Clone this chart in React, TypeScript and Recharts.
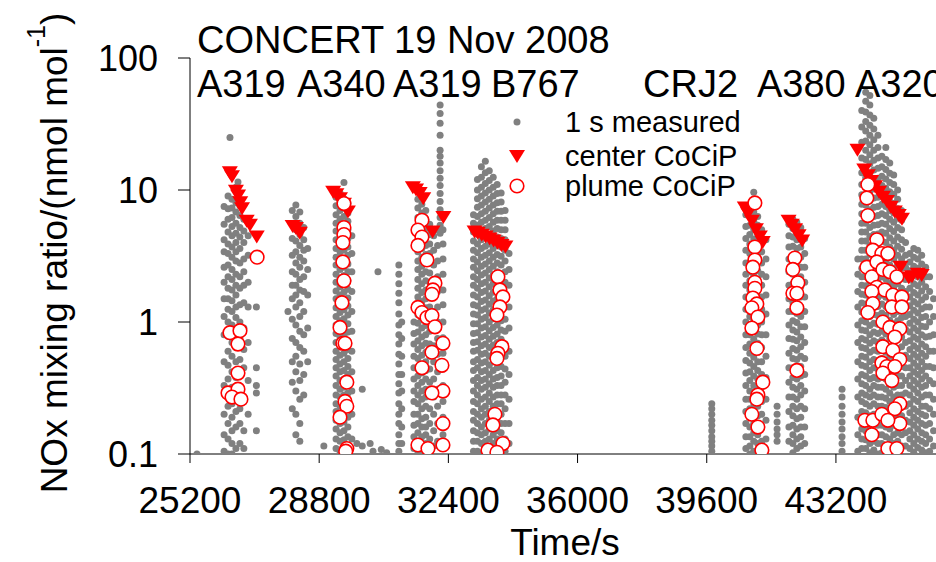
import { ScatterChart, Scatter, XAxis, YAxis } from 'recharts';

type Column = [number, number[]];

// 1 s measured NOx, grouped by time column: [time (s), values (nmol/mol)]
const measuredA319a: Column[] = [
  [25395, [0.1]],
  [26150, [7.5, 5.5, 4.2, 3.4, 2.6, 2.0, 1.5, 1.1, 0.8, 0.5, 0.33, 0.2, 0.14, 0.105]],
  [26260, [9.0, 7.2, 6.0, 4.8, 3.9, 3.3, 2.7, 2.2, 1.8, 1.5, 1.25, 1.0, 0.78, 0.6, 0.47, 0.37, 0.29, 0.23, 0.17, 0.13, 0.1]],
  [26314, [25]],
  [26370, [8.5, 7.3, 6.2, 5.3, 4.5, 3.7, 3.1, 2.5, 2.1, 1.75, 1.45, 1.2, 0.95, 0.7, 0.55, 0.42, 0.32, 0.24, 0.19, 0.15, 0.12, 0.1]],
  [26480, [10.5, 8.0, 6.8, 5.6, 4.7, 4.0, 3.4, 2.9, 2.3, 1.9, 1.6, 1.3, 1.08, 0.88, 0.64, 0.5, 0.38, 0.28, 0.21, 0.16, 0.11]],
  [26537, [11.5]],
  [26590, [7.6, 6.4, 5.2, 4.4, 3.6, 2.8, 2.2, 1.8, 1.35, 1.0, 0.75, 0.52, 0.4, 0.3, 0.22, 0.17, 0.12]],
  [26700, [6.0, 4.9, 4.0, 3.0, 2.4, 1.9, 1.4, 0.9, 0.62, 0.45, 0.25, 0.15, 0.11]],
  [26820, [4.5, 3.2, 2.0, 1.3, 0.7, 0.36, 0.2]],
  [27050, [1.3, 0.45, 0.33, 0.29, 0.15]],
];

const measuredA340: Column[] = [
  [27930, [1.2]],
  [28050, [7.0, 5.5, 4.3, 3.2, 2.4, 1.9, 1.5, 1.05, 0.75, 0.5, 0.35, 0.22]],
  [28150, [7.7, 6.3, 5.0, 4.1, 3.4, 2.8, 2.3, 1.9, 1.6, 1.3, 0.95, 0.7, 0.55, 0.42, 0.3, 0.2, 0.14]],
  [28260, [6.8, 5.6, 4.6, 3.8, 3.1, 2.6, 2.1, 1.75, 1.4, 1.1, 0.85, 0.64, 0.48, 0.36, 0.26, 0.17, 0.125]],
  [28370, [5.2, 4.2, 3.5, 2.9, 2.2, 1.7, 1.2, 0.8, 0.6, 0.4, 0.28]],
  [28480, [3.6, 2.5, 1.6, 0.9, 0.5]],
  [28930, [0.115]],
  [29270, [8.8, 7.6, 6.5, 5.6, 4.9, 4.2, 3.6, 3.1, 2.7, 2.3, 2.0, 1.72, 1.5, 1.28, 1.1, 0.95, 0.82, 0.7, 0.6, 0.52, 0.45, 0.39, 0.33, 0.28, 0.24, 0.21, 0.18, 0.155, 0.13, 0.11]],
  [29380, [9.5, 8.2, 7.0, 6.0, 5.2, 4.5, 3.9, 3.4, 2.9, 2.5, 2.15, 1.85, 1.6, 1.38, 1.18, 1.02, 0.88, 0.76, 0.65, 0.56, 0.48, 0.42, 0.36, 0.31, 0.27, 0.23, 0.2, 0.17, 0.145, 0.125, 0.105]],
  [29490, [11.4, 8.6, 7.3, 6.3, 5.4, 4.7, 4.0, 3.5, 3.0, 2.6, 2.25, 1.95, 1.68, 1.45, 1.24, 1.06, 0.92, 0.79, 0.68, 0.58, 0.5, 0.43, 0.37, 0.32, 0.28, 0.24, 0.205, 0.175, 0.15, 0.128, 0.11]],
  [29600, [7.9, 6.7, 5.8, 5.0, 4.3, 3.7, 3.2, 2.75, 2.4, 2.05, 1.77, 1.52, 1.32, 1.13, 0.97, 0.84, 0.72, 0.62, 0.53, 0.46, 0.4, 0.34, 0.29, 0.25, 0.22, 0.19, 0.16, 0.135, 0.115, 0.1]],
  [29710, [4.5, 3.3, 2.4, 1.7, 1.2, 0.85, 0.6, 0.42, 0.3, 0.2, 0.13]],
  [29850, [0.12]],
  [30000, [0.31, 0.115]],
  [30220, [0.12]],
  [30300, [0.105]],
  [30438, [2.4]],
  [30530, [0.108]],
  [30680, [0.102]],
];

const measuredA319b: Column[] = [
  [31020, [2.7, 2.3, 1.95, 1.65, 1.4, 1.15, 0.95, 0.8, 0.68, 0.57, 0.48, 0.4, 0.34, 0.29, 0.24, 0.2, 0.17, 0.14, 0.12, 0.105]],
  [31100, [1.0, 0.75, 0.55, 0.4, 0.3, 0.22, 0.16, 0.12]],
  [31440, [1.0, 0.82, 0.68, 0.55, 0.45, 0.37, 0.3, 0.25, 0.2, 0.165, 0.135, 0.11]],
  [31550, [8.5, 7.3, 6.2, 5.3, 4.6, 3.9, 3.4, 2.9, 2.5, 2.1, 1.8, 1.55, 1.33, 1.14, 0.98, 0.84, 0.72, 0.62, 0.53, 0.45, 0.39, 0.33, 0.28, 0.24, 0.2, 0.17, 0.145, 0.125, 0.105]],
  [31660, [7.8, 6.7, 5.7, 4.9, 4.2, 3.6, 3.1, 2.65, 2.3, 1.95, 1.67, 1.43, 1.23, 1.05, 0.9, 0.77, 0.66, 0.56, 0.48, 0.41, 0.35, 0.3, 0.26, 0.22, 0.185, 0.16, 0.135, 0.115, 0.1]],
  [31770, [7.0, 6.0, 5.1, 4.4, 3.8, 3.25, 2.8, 2.4, 2.05, 1.75, 1.5, 1.28, 1.1, 0.94, 0.8, 0.69, 0.59, 0.5, 0.43, 0.37, 0.31, 0.27, 0.23, 0.19, 0.16, 0.14, 0.12]],
  [31880, [5.5, 4.6, 3.9, 3.3, 2.8, 2.35, 2.0, 1.6, 1.3, 1.05, 0.85, 0.68, 0.55, 0.44, 0.35, 0.28, 0.22, 0.17, 0.13, 0.11]],
  [31990, [4.5, 3.5, 2.7, 2.1, 1.6, 1.2, 0.9, 0.66, 0.5, 0.37, 0.27, 0.2, 0.15, 0.115]],
  [32100, [5.0, 3.8, 2.9, 2.2, 1.7, 1.3, 1.0, 0.75, 0.57, 0.42, 0.31, 0.23, 0.17, 0.125]],
  [32170, [44, 38, 32, 26, 20, 18, 16, 14, 12.3, 10.8, 9.4, 8.2, 7.1, 6.2, 5.4, 4.7]],
  [32250, [6.5, 5.0, 3.9, 3.0, 2.3, 1.75, 1.35, 1.0, 0.76, 0.58, 0.44, 0.33, 0.25, 0.19, 0.14, 0.11]],
];

const measuredB767: Column[] = [
  [33100, [6.5, 5.6, 4.8, 4.1, 3.5, 3.0, 2.6, 2.2, 1.9, 1.6, 1.35, 1.15, 0.97, 0.82, 0.7, 0.6, 0.5, 0.43, 0.36, 0.3, 0.25, 0.21, 0.18, 0.15, 0.125, 0.105]],
  [33210, [12, 10, 8.6, 7.4, 6.3, 5.4, 4.6, 3.9, 3.35, 2.85, 2.45, 2.1, 1.8, 1.55, 1.32, 1.13, 0.97, 0.83, 0.71, 0.61, 0.52, 0.45, 0.38, 0.33, 0.28, 0.24, 0.2, 0.17, 0.145, 0.125, 0.105]],
  [33320, [15, 12.5, 10.5, 9.0, 7.7, 6.6, 5.7, 4.9, 4.2, 3.6, 3.1, 2.65, 2.27, 1.95, 1.67, 1.43, 1.23, 1.05, 0.9, 0.77, 0.66, 0.57, 0.49, 0.42, 0.36, 0.31, 0.26, 0.22, 0.19, 0.16, 0.14, 0.12, 0.1]],
  [33430, [16.5, 13.5, 11.2, 9.5, 8.1, 6.9, 5.9, 5.1, 4.4, 3.75, 3.2, 2.75, 2.35, 2.0, 1.72, 1.47, 1.26, 1.08, 0.92, 0.79, 0.68, 0.58, 0.5, 0.43, 0.37, 0.32, 0.27, 0.23, 0.2, 0.17, 0.145, 0.125, 0.107]],
  [33540, [14, 11.8, 10, 8.5, 7.3, 6.2, 5.3, 4.55, 3.9, 3.35, 2.9, 2.5, 2.15, 1.85, 1.58, 1.36, 1.17, 1.0, 0.86, 0.74, 0.64, 0.55, 0.47, 0.4, 0.34, 0.29, 0.25, 0.21, 0.18, 0.155, 0.13, 0.11]],
  [33650, [12.5, 10.5, 9.0, 7.7, 6.6, 5.7, 4.9, 4.2, 3.6, 3.1, 2.65, 2.28, 1.96, 1.68, 1.44, 1.24, 1.06, 0.91, 0.78, 0.67, 0.58, 0.5, 0.43, 0.37, 0.32, 0.27, 0.23, 0.195, 0.165, 0.14, 0.12, 0.102]],
  [33760, [11, 9.4, 8.0, 6.9, 5.9, 5.1, 4.4, 3.8, 3.25, 2.8, 2.4, 2.05, 1.76, 1.5, 1.29, 1.1, 0.95, 0.81, 0.7, 0.6, 0.52, 0.45, 0.38, 0.33, 0.28, 0.24, 0.205, 0.175, 0.15, 0.13, 0.11]],
  [33870, [9.5, 8.1, 6.9, 5.9, 5.0, 4.3, 3.7, 3.15, 2.7, 2.3, 1.95, 1.65, 1.4, 1.2, 1.02, 0.87, 0.74, 0.63, 0.54, 0.46, 0.39, 0.33, 0.28, 0.24, 0.2, 0.17, 0.145, 0.12]],
  [33980, [7.0, 5.9, 5.0, 4.2, 3.5, 2.9, 2.4, 2.0, 1.6, 1.3, 1.05, 0.85, 0.68, 0.55, 0.44, 0.35, 0.28, 0.22, 0.17, 0.13, 0.105]],
  [34090, [3.3, 2.5, 1.9, 1.3, 0.9, 0.6, 0.4, 0.26, 0.17, 0.12]],
];

const measuredCrj2A380: Column[] = [
  [39740, [0.24, 0.22, 0.2, 0.18, 0.165, 0.15, 0.135, 0.125, 0.115, 0.105]],
  [40690, [6.5, 5.3, 4.3, 3.5, 2.8, 2.3, 1.9, 1.55, 1.25, 1.0, 0.8, 0.64, 0.51, 0.41, 0.33, 0.26, 0.21, 0.17, 0.135, 0.11]],
  [40800, [7.5, 6.4, 5.4, 4.6, 3.9, 3.3, 2.8, 2.4, 2.05, 1.75, 1.5, 1.28, 1.1, 0.94, 0.8, 0.68, 0.58, 0.49, 0.42, 0.36, 0.3, 0.26, 0.22, 0.19, 0.16, 0.135, 0.115, 0.1]],
  [40910, [9.6, 8.0, 6.8, 5.8, 5.0, 4.25, 3.6, 3.1, 2.65, 2.25, 1.92, 1.64, 1.4, 1.2, 1.02, 0.87, 0.74, 0.63, 0.54, 0.46, 0.39, 0.33, 0.28, 0.24, 0.2, 0.17, 0.145, 0.125, 0.105]],
  [41020, [6.3, 5.4, 4.6, 3.9, 3.35, 2.85, 2.45, 2.1, 1.8, 1.52, 1.3, 1.11, 0.95, 0.81, 0.69, 0.59, 0.5, 0.43, 0.37, 0.31, 0.27, 0.23, 0.195, 0.165, 0.14, 0.12]],
  [41130, [5.0, 4.1, 3.4, 2.8, 2.3, 1.9, 1.55, 1.25, 1.0, 0.8, 0.64, 0.5, 0.4, 0.32, 0.25, 0.2, 0.16, 0.125, 0.105]],
  [41250, [4.2, 3.0, 2.2, 1.6, 1.15, 0.8, 0.55, 0.38, 0.26, 0.18, 0.13]],
  [41560, [0.23, 0.2, 0.175, 0.155, 0.14, 0.125]],
  [41890, [5.5, 4.5, 3.7, 3.0, 2.4, 1.9, 1.5, 1.2, 0.95, 0.75, 0.58, 0.45, 0.35, 0.27, 0.21, 0.16, 0.125]],
  [42000, [6.0, 5.1, 4.4, 3.75, 3.2, 2.7, 2.3, 1.95, 1.65, 1.4, 1.2, 1.02, 0.87, 0.74, 0.63, 0.53, 0.45, 0.38, 0.32, 0.27, 0.23, 0.195, 0.165, 0.14, 0.12, 0.102]],
  [42110, [5.7, 4.9, 4.2, 3.6, 3.05, 2.6, 2.2, 1.87, 1.6, 1.36, 1.16, 0.99, 0.84, 0.72, 0.61, 0.52, 0.44, 0.37, 0.31, 0.26, 0.22, 0.185, 0.155, 0.13, 0.11]],
  [42220, [5.2, 4.4, 3.7, 3.1, 2.6, 2.2, 1.85, 1.55, 1.3, 1.1, 0.92, 0.77, 0.65, 0.55, 0.46, 0.39, 0.33, 0.28, 0.23, 0.19, 0.16, 0.135, 0.115]],
  [42330, [4.3, 3.3, 2.6, 2.0, 1.55, 1.2, 0.92, 0.7, 0.53, 0.4, 0.3, 0.22, 0.16, 0.12]],
];

const measuredA320: Column[] = [
  [43370, [0.31, 0.27, 0.23, 0.2, 0.175, 0.155, 0.135, 0.12, 0.105]],
  [43810, [3.0, 2.3, 1.7, 1.3, 0.95, 0.7, 0.5, 0.37, 0.27, 0.19, 0.14, 0.105]],
  [43920, [40, 30, 23, 17.5, 13.5, 11, 9.2, 7.8, 6.6, 5.6, 4.8, 4.1, 3.5, 3.0, 2.55, 2.2, 1.9, 1.62, 1.39, 1.19, 1.02, 0.87, 0.75, 0.64, 0.55, 0.47, 0.4, 0.34, 0.29, 0.25, 0.21, 0.18, 0.155, 0.13, 0.11]],
  [44030, [55, 47, 39, 33, 28, 23.5, 20, 17, 14.5, 12.4, 10.6, 9.0, 7.7, 6.6, 5.6, 4.8, 4.1, 3.5, 3.0, 2.6, 2.2, 1.88, 1.6, 1.37, 1.17, 1.0, 0.86, 0.73, 0.63, 0.54, 0.46, 0.39, 0.33, 0.28, 0.24, 0.205, 0.175, 0.15, 0.128, 0.11]],
  [44145, [52, 44, 37, 31, 26, 22, 18.5, 15.8, 13.4, 11.4, 9.7, 8.3, 7.1, 6.1, 5.2, 4.45, 3.8, 3.25, 2.8, 2.4, 2.05, 1.75, 1.5, 1.28, 1.1, 0.94, 0.8, 0.69, 0.59, 0.5, 0.43, 0.37, 0.31, 0.27, 0.23, 0.195, 0.165, 0.14, 0.12, 0.102]],
  [44255, [35, 29, 24, 20, 16.8, 14.2, 12, 10.2, 8.7, 7.4, 6.3, 5.4, 4.6, 3.95, 3.4, 2.9, 2.5, 2.12, 1.82, 1.56, 1.33, 1.14, 0.98, 0.84, 0.72, 0.61, 0.52, 0.45, 0.38, 0.33, 0.28, 0.24, 0.2, 0.17, 0.145, 0.125, 0.107]],
  [44370, [26, 21, 17.5, 14.6, 12.3, 10.4, 8.8, 7.5, 6.4, 5.45, 4.65, 3.95, 3.35, 2.85, 2.45, 2.1, 1.8, 1.54, 1.31, 1.12, 0.96, 0.82, 0.7, 0.6, 0.51, 0.44, 0.37, 0.32, 0.27, 0.23, 0.195, 0.165, 0.14, 0.12, 0.1]],
  [44480, [18, 15, 12.7, 10.8, 9.2, 7.8, 6.6, 5.6, 4.8, 4.1, 3.5, 3.0, 2.55, 2.2, 1.87, 1.6, 1.37, 1.17, 1.0, 0.85, 0.73, 0.62, 0.53, 0.45, 0.38, 0.32, 0.27, 0.23, 0.195, 0.165, 0.14, 0.12, 0.102]],
  [44590, [21, 17, 14.3, 12.1, 10.3, 8.8, 7.5, 6.4, 5.5, 4.7, 4.0, 3.4, 2.9, 2.5, 2.12, 1.8, 1.54, 1.31, 1.12, 0.95, 0.81, 0.69, 0.59, 0.5, 0.43, 0.37, 0.31, 0.265, 0.225, 0.19, 0.16, 0.135, 0.115]],
  [44700, [16, 13.4, 11.4, 9.7, 8.2, 7.0, 6.0, 5.1, 4.35, 3.7, 3.15, 2.7, 2.3, 1.96, 1.67, 1.42, 1.21, 1.03, 0.88, 0.75, 0.64, 0.55, 0.47, 0.4, 0.34, 0.29, 0.25, 0.21, 0.18, 0.155, 0.13, 0.11]],
  [44810, [13, 11, 9.3, 7.9, 6.7, 5.7, 4.85, 4.1, 3.5, 3.0, 2.55, 2.17, 1.85, 1.57, 1.34, 1.14, 0.97, 0.83, 0.71, 0.6, 0.51, 0.44, 0.37, 0.32, 0.27, 0.23, 0.195, 0.165, 0.14, 0.12, 0.102]],
  [44920, [10, 8.5, 7.2, 6.1, 5.2, 4.4, 3.75, 3.2, 2.7, 2.3, 1.95, 1.66, 1.41, 1.2, 1.02, 0.87, 0.74, 0.63, 0.54, 0.46, 0.39, 0.33, 0.28, 0.24, 0.2, 0.17, 0.145, 0.125, 0.105]],
  [45030, [7.0, 5.9, 5.0, 4.2, 3.55, 3.0, 2.55, 2.15, 1.8, 1.52, 1.28, 1.08, 0.91, 0.77, 0.65, 0.55, 0.46, 0.39, 0.33, 0.28, 0.23, 0.195, 0.165, 0.14, 0.115]],
  [45140, [4.0, 3.2, 2.6, 2.1, 1.7, 1.35, 1.1, 0.88, 0.7, 0.56, 0.45, 0.36, 0.29, 0.23, 0.18, 0.145, 0.115]],
  [45260, [3.3, 2.85, 2.45, 2.1, 1.8, 1.55, 1.33, 1.14, 0.98, 0.84, 0.72, 0.62, 0.53, 0.45, 0.39, 0.33, 0.28, 0.24, 0.205, 0.175, 0.15, 0.13, 0.11]],
  [45370, [3.6, 3.1, 2.65, 2.28, 1.95, 1.67, 1.43, 1.23, 1.05, 0.9, 0.77, 0.66, 0.57, 0.49, 0.42, 0.36, 0.31, 0.26, 0.22, 0.19, 0.165, 0.14, 0.12, 0.103]],
  [45480, [3.5, 3.0, 2.55, 2.2, 1.88, 1.6, 1.37, 1.17, 1.0, 0.86, 0.74, 0.63, 0.54, 0.46, 0.4, 0.34, 0.29, 0.25, 0.21, 0.18, 0.155, 0.13, 0.112]],
  [45590, [3.2, 2.75, 2.35, 2.0, 1.72, 1.47, 1.26, 1.08, 0.93, 0.8, 0.68, 0.58, 0.5, 0.43, 0.37, 0.32, 0.27, 0.23, 0.2, 0.17, 0.145, 0.125, 0.107]],
  [45700, [2.6, 2.2, 1.85, 1.55, 1.3, 1.1, 0.92, 0.77, 0.65, 0.55, 0.46, 0.39, 0.33, 0.28, 0.23, 0.195, 0.165, 0.14, 0.12, 0.102]],
  [45810, [2.2, 1.7, 1.3, 1.0, 0.78, 0.6, 0.46, 0.36, 0.28, 0.22, 0.17, 0.13, 0.105]],
  [45920, [1.5, 1.1, 0.8, 0.6, 0.45, 0.34, 0.26, 0.2, 0.15, 0.115]],
];

// center CoCiP: [time, value]
const centerCocip: [number, number][] = [
  [26310, 13.5], [26370, 12.6], [26480, 9.8], [26540, 9.0], [26600, 8.0], [26650, 7.2], [26780, 5.8], [26870, 5.4], [27060, 4.4],
  [28060, 5.3], [28150, 5.1], [28260, 4.7],
  [29190, 9.6], [29280, 9.2], [29380, 8.6], [29490, 7.8], [29600, 6.8],
  [31410, 10.4], [31500, 10.0], [31600, 9.4], [31700, 8.6], [32260, 6.2], [31960, 4.8],
  [33130, 4.8], [33220, 4.7], [33330, 4.55], [33440, 4.4], [33550, 4.25], [33660, 4.1], [33770, 3.95], [33880, 3.8], [33990, 3.7],
  [40660, 7.3], [40750, 6.6], [40860, 5.8], [40970, 5.0], [41080, 4.4], [41160, 4.0],
  [41880, 5.8], [41970, 5.4], [42060, 5.0], [42160, 4.5], [42260, 4.1],
  [43800, 20.0], [43990, 14.2], [44090, 12.8], [44180, 11.6], [44290, 10.6], [44400, 9.6], [44510, 8.8], [44620, 8.2],
  [44730, 7.4], [44840, 6.8], [44950, 6.4], [45040, 6.0],
  [45000, 2.6], [45230, 2.15], [45320, 2.2], [45480, 2.3], [45590, 2.25],
];

// plume CoCiP: [time, value]
const plumeCocip: [number, number][] = [
  [27070, 3.1], [26314, 0.83], [26593, 0.86], [26537, 0.68], [26537, 0.41], [26259, 0.29], [26537, 0.31], [26370, 0.27], [26620, 0.26],
  [29490, 7.9], [29490, 5.2], [29490, 4.6], [29460, 4.0], [29460, 2.85], [29490, 2.05], [29435, 1.4], [29380, 0.91], [29460, 0.69],
  [29520, 0.69], [29570, 0.35], [29520, 0.25], [29570, 0.23], [29380, 0.19], [29570, 0.11], [29540, 0.105],
  [31664, 5.9], [31552, 4.97], [31664, 4.4], [31552, 3.8], [31803, 2.95], [32026, 1.97], [31970, 1.75], [31942, 1.62], [31552, 1.29],
  [31664, 1.18], [31803, 1.08], [31942, 1.12], [32026, 0.92], [32249, 0.69], [31942, 0.59], [32221, 0.47], [31664, 0.45], [32249, 0.3],
  [31942, 0.29], [32249, 0.17], [31552, 0.117], [31831, 0.11], [32249, 0.117],
  [33781, 2.2], [33837, 1.75], [33920, 1.55], [33837, 1.3], [33753, 1.13], [33892, 0.65], [33781, 0.58], [33753, 0.53], [33697, 0.2],
  [33642, 0.166], [33920, 0.12], [33503, 0.107], [33753, 0.103],
  [40941, 7.98], [40941, 3.7], [40941, 2.95], [40885, 2.6], [40941, 2.0], [40941, 1.8], [40885, 1.52], [40996, 1.37], [40857, 1.28],
  [41025, 1.09], [40857, 0.9], [40996, 0.63], [41164, 0.35], [41025, 0.28], [40996, 0.26], [40857, 0.2], [41025, 0.16], [41136, 0.107],
  [42055, 3.05], [42000, 2.5], [42139, 1.98], [42000, 1.65], [42111, 1.65], [42111, 1.28], [42111, 0.43],
  [44089, 11], [44061, 8.7], [44089, 6.4], [44340, 4.2], [44229, 3.5], [44480, 3.3], [44647, 3.3], [44061, 2.6], [44340, 2.85],
  [44201, 2.2], [44508, 2.5], [44702, 2.4], [44898, 2.2], [44340, 1.83], [44563, 1.75], [44786, 1.6], [45037, 1.55], [44201, 1.7],
  [44229, 1.38], [44758, 1.3], [45037, 1.3], [44089, 1.18], [44508, 1.0], [44702, 0.91], [44981, 0.89], [44842, 0.77], [44508, 0.65],
  [44786, 0.61], [44981, 0.52], [44480, 0.49], [44619, 0.46], [44842, 0.46], [44508, 0.41], [44758, 0.36], [44981, 0.24], [44842, 0.22],
  [44006, 0.18], [44229, 0.18], [44480, 0.2], [44981, 0.17], [44647, 0.18], [44201, 0.14], [44647, 0.11], [44898, 0.11],
];

const xTicks = [25200, 28800, 32400, 36000, 39600, 43200];
const yTicks = [0.1, 1, 10, 100];
const aircraft: [string, number][] = [
  ['A319', 197], ['A340', 297], ['A319', 393], ['B767', 491], ['CRJ2', 643], ['A380', 757], ['A320', 855],
];

const fontFamily = '"Liberation Sans", Arial, sans-serif';

const toPoints = (cols: Column[]) => cols.flatMap(([t, vs]) => vs.map((v) => ({ t, v })));
const measured = [
  ...toPoints(measuredA319a),
  ...toPoints(measuredA340),
  ...toPoints(measuredA319b),
  ...toPoints(measuredB767),
  ...toPoints(measuredCrj2A380),
  ...toPoints(measuredA320),
];
const center = centerCocip.map(([t, v]) => ({ t, v }));
const plume = plumeCocip.map(([t, v]) => ({ t, v }));

const GrayDot = (p: any) => <circle cx={p.cx} cy={p.cy} r={3.5} fill="#808080" />;
const DownTri = (p: any) => (
  <path d={`M${p.cx - 8},${p.cy - 6.5}L${p.cx + 8},${p.cy - 6.5}L${p.cx},${p.cy + 6.5}Z`} fill="#ff0000" />
);
const Ring = (p: any) => (
  <circle cx={p.cx} cy={p.cy} r={6.8} fill="#ffffff" stroke="#ff0000" strokeWidth={1.6} />
);

export default function App() {
  return (
    <div style={{ position: 'absolute', left: 0, top: 0, width: 936, height: 562, overflow: 'hidden', background: '#fff' }}>
      <ScatterChart width={950} height={562} margin={{ top: 58, right: 10, bottom: 48, left: 90 }}>
        <XAxis
          type="number"
          dataKey="t"
          domain={[25200, 46100]}
          ticks={xTicks}
          allowDataOverflow
          height={60}
          tickSize={9}
          tickMargin={24}
          stroke="#000"
          tick={{ fontSize: 37, fill: '#000', fontFamily }}
        />
        <XAxis
          xAxisId="top"
          orientation="top"
          type="number"
          domain={[25200, 46100]}
          ticks={xTicks}
          allowDataOverflow
          height={0}
          mirror
          tickSize={7}
          tick={false}
          stroke="#000"
        />
        <YAxis
          type="number"
          dataKey="v"
          scale="log"
          domain={[0.1, 100]}
          ticks={yTicks}
          allowDataOverflow
          width={100}
          tickSize={12}
          tickMargin={20}
          stroke="#000"
          tick={{ fontSize: 36, fill: '#000', fontFamily }}
        />
        <YAxis
          yAxisId="right"
          orientation="right"
          type="number"
          scale="log"
          domain={[0.1, 100]}
          ticks={yTicks}
          allowDataOverflow
          width={0}
          mirror
          tickSize={10}
          tick={false}
          stroke="#000"
        />
        <Scatter data={measured} shape={GrayDot} isAnimationActive={false} />
        <Scatter data={center} shape={DownTri} isAnimationActive={false} />
        <Scatter data={plume} shape={Ring} isAnimationActive={false} />
      </ScatterChart>
      <svg
        width={936}
        height={562}
        style={{ position: 'absolute', left: 0, top: 0, pointerEvents: 'none' }}
        fontFamily={fontFamily}
      >
        <text x={197} y={53} fontSize={38}>CONCERT 19 Nov 2008</text>
        {aircraft.map(([name, x], i) => (
          <text key={i} x={x} y={97} fontSize={38}>{name}</text>
        ))}
        <circle cx={517} cy={122} r={3.5} fill="#808080" />
        <text x={565} y={132} fontSize={29}>1 s measured</text>
        <path d="M509,150L525,150L517,163Z" fill="#ff0000" />
        <text x={565} y={166} fontSize={29}>center CoCiP</text>
        <circle cx={517} cy={186} r={6.8} fill="#fff" stroke="#ff0000" strokeWidth={1.6} />
        <text x={565} y={196} fontSize={29}>plume CoCiP</text>
        <text x={565} y={555} fontSize={37} textAnchor="middle">Time/s</text>
        <text transform="translate(67,253) rotate(-90)" fontSize={37} textAnchor="middle">
          NOx mixing ratio/(nmol mol<tspan fontSize={25} dy={-22}>-1</tspan><tspan dy={22}>)</tspan>
        </text>
      </svg>
    </div>
  );
}
